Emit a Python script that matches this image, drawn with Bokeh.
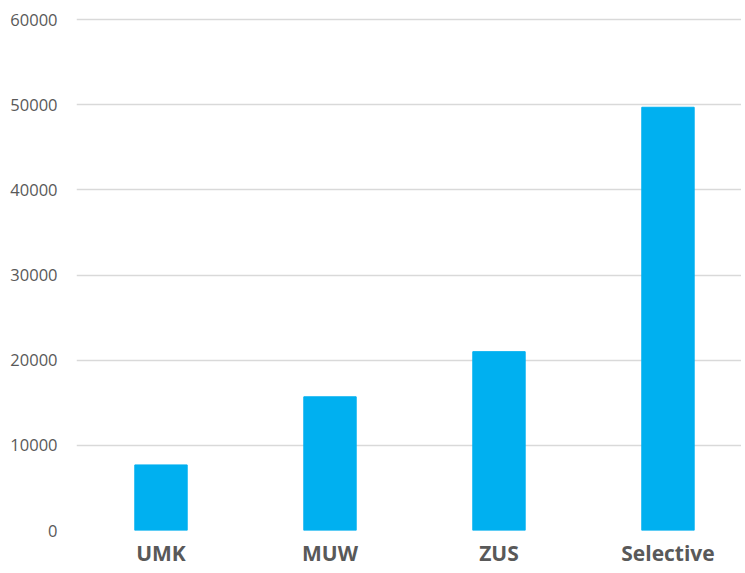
from bokeh.plotting import figure
from bokeh.models import ColumnDataSource, Range1d, FixedTicker
from bokeh.embed import file_html
from bokeh.resources import INLINE

categories = ["UMK", "MUW", "ZUS", "Selective"]
values = [7700, 15700, 21000, 49700]
y_ticks = [0, 10000, 20000, 30000, 40000, 50000, 60000]

xs = [i + 0.5 for i in range(len(categories))]
source = ColumnDataSource(dict(x=xs, top=values, cat=categories))

p = figure(width=741, height=569, output_backend="svg", toolbar_location=None,
           x_range=Range1d(0, 3.935), y_range=Range1d(0, 60240),
           min_border_left=76, min_border_right=0, min_border_top=17, min_border_bottom=30)

p.vbar(x="x", top="top", width=0.31, source=source, color="#00B0F0")

p.outline_line_color = None
p.xgrid.grid_line_color = None
p.ygrid.grid_line_color = "#d9d9d9"
p.ygrid.grid_line_width = 1.5

p.yaxis.ticker = FixedTicker(ticks=y_ticks)
p.yaxis.major_label_overrides = {t: str(t) for t in y_ticks}
p.yaxis.axis_line_color = None
p.yaxis.major_tick_line_color = None
p.yaxis.minor_tick_line_color = None
p.yaxis.major_label_text_font = "Open Sans"
p.yaxis.major_label_text_font_size = "16.5px"
p.yaxis.major_label_text_color = "#595959"
p.yaxis.major_label_standoff = 13

p.xaxis.ticker = FixedTicker(ticks=xs)
p.xaxis.major_label_overrides = {x: c for x, c in zip(xs, categories)}
p.xaxis.axis_line_color = None
p.xaxis.major_tick_line_color = None
p.xaxis.minor_tick_line_color = None
p.xaxis.major_label_text_font = "Open Sans"
p.xaxis.major_label_text_font_style = "bold"
p.xaxis.major_label_text_font_size = "21px"
p.xaxis.major_label_text_color = "#595959"
p.xaxis.major_label_standoff = 2

open("out.html", "w").write(file_html(p, INLINE))
